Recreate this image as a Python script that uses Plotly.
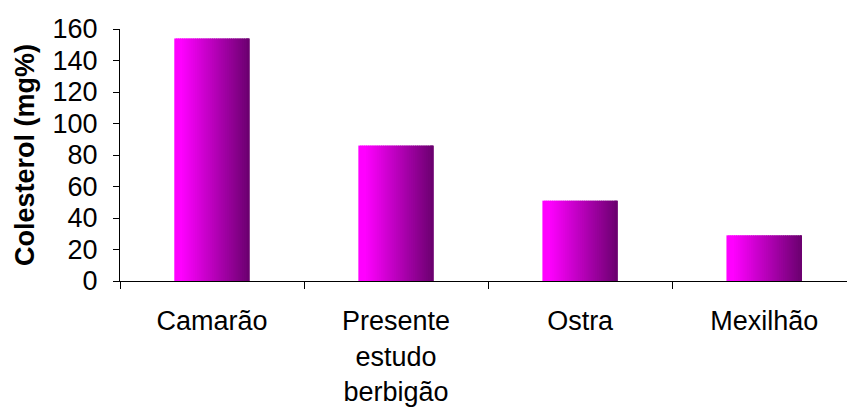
import plotly.graph_objects as go

categories = ["Camarão", "Presente<br>estudo<br>berbigão", "Ostra", "Mexilhão"]
values = [154, 86, 51, 29]
y_ticks = [0, 20, 40, 60, 80, 100, 120, 140, 160]
y_title = "Colesterol (mg%)"

# gradient colours (left -> right)
c_left = (255, 0, 255)
c_right = (108, 0, 112)

fig = go.Figure()
bw = 0.41
N = 40
for i in range(N):
    t = i / (N - 1)
    # keep bright magenta for a short while then fade
    tt = max(0.0, (t - 0.08) / 0.92)
    col = tuple(round(c_left[k] + (c_right[k] - c_left[k]) * tt) for k in range(3))
    step = bw / N
    w = step * (1.6 if i < N - 1 else 1.0)
    fig.add_trace(go.Bar(
        x=categories, y=values,
        width=[w] * len(values),
        offset=[-bw / 2 + i * step] * len(values),
        marker=dict(color="rgb(%d,%d,%d)" % col, line=dict(width=0)),
        showlegend=False, hoverinfo="skip",
    ))

font = dict(family="Liberation Sans, Arial, sans-serif", size=27, color="black")
fig.update_layout(
    barmode="overlay",
    width=847, height=407,
    margin=dict(l=120, r=0, t=29, b=126),
    paper_bgcolor="white", plot_bgcolor="white",
    font=font,
    xaxis=dict(
        type="category", range=[-0.5, 3.45],
        showline=True, linecolor="black", linewidth=1,
        ticks="outside", ticklen=7, tickcolor="black", tickson="boundaries",
        showgrid=False, zeroline=False, tickfont=font,
        ticklabelstandoff=16,
    ),
    yaxis=dict(
        range=[0, 160], tickvals=y_ticks,
        showline=True, linecolor="black", linewidth=1,
        ticks="outside", ticklen=6, tickcolor="black",
        showgrid=False, zeroline=False, tickfont=font,
        ticklabelstandoff=10,
        title=dict(text="<b>" + y_title + "</b>", font=font, standoff=10),
    ),
)
fig.write_html("out.html")
